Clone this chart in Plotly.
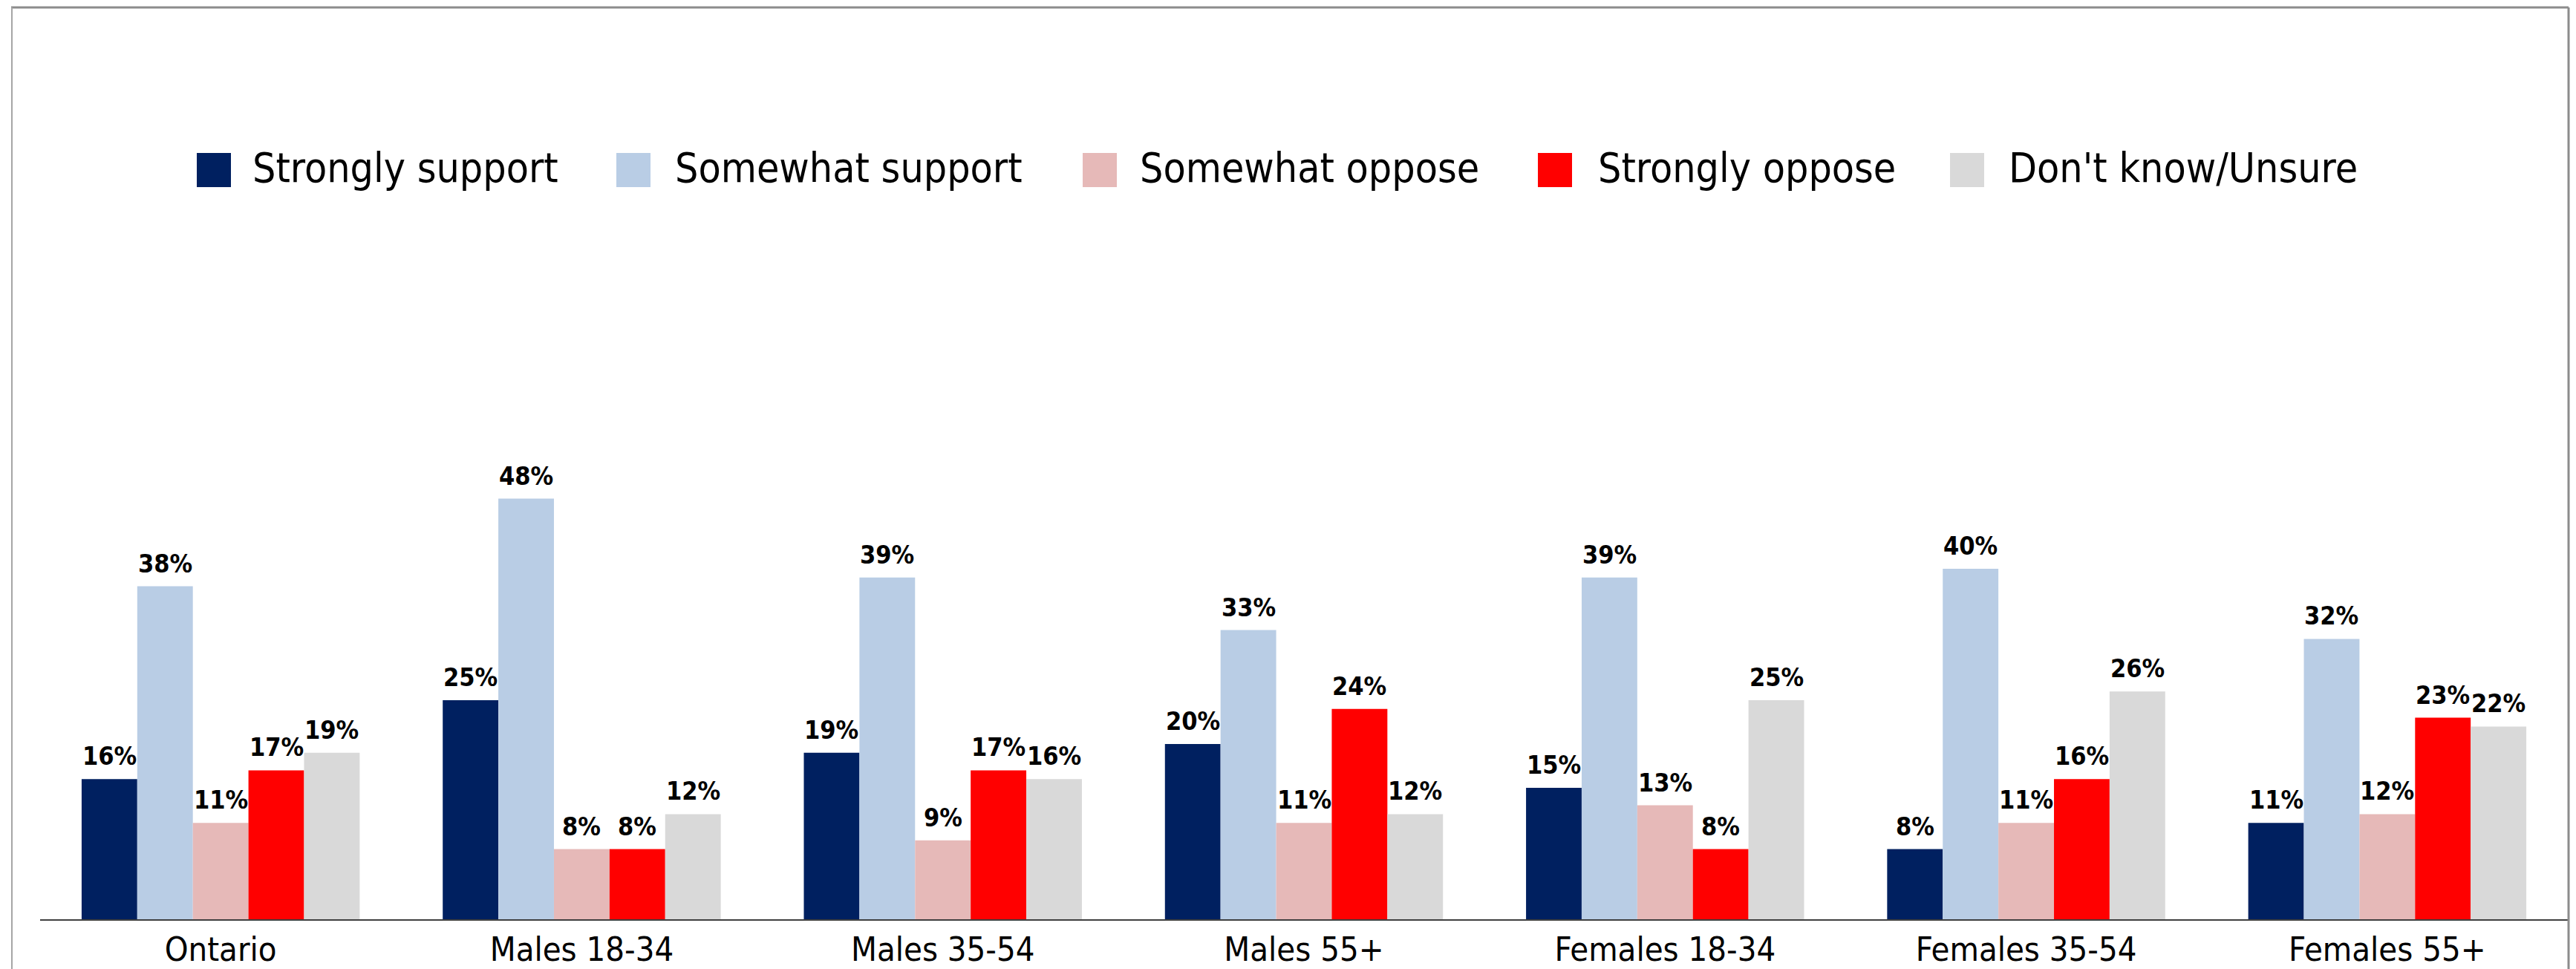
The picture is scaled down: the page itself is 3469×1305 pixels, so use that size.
import plotly.graph_objects as go

categories = ["Ontario", "Males 18-34", "Males 35-54", "Males 55+",
              "Females 18-34", "Females 35-54", "Females 55+"]
series_names = ["Strongly support", "Somewhat support", "Somewhat oppose",
                "Strongly oppose", "Don't know/Unsure"]
strongly_support = [16, 25, 19, 20, 15, 8, 11]
somewhat_support = [38, 48, 39, 33, 39, 40, 32]
somewhat_oppose = [11, 8, 9, 11, 13, 11, 12]
strongly_oppose = [17, 8, 17, 24, 8, 16, 23]
dont_know = [19, 12, 16, 12, 25, 26, 22]
series_values = [strongly_support, somewhat_support, somewhat_oppose,
                 strongly_oppose, dont_know]
colors = ["#002060", "#B9CDE5", "#E6B9B8", "#FF0000", "#D9D9D9"]

FONT = "Liberation Sans Narrow, DejaVu Sans Condensed, Arial Narrow, sans-serif"

W, H = 3469, 1305
L, R_EDGE = 54, 3458
TOP, BASE = 58, 1238
pw, ph = R_EDGE - L, BASE - TOP
BARGAP = 0.23
n_series = len(series_names)
bar_px = pw / len(categories) * (1 - BARGAP) / n_series

def px(x):
    return (x - L) / pw

def py(y):
    return (BASE - y) / ph

fig = go.Figure()
annotations = []
for i, (name, vals, col) in enumerate(zip(series_names, series_values, colors)):
    fig.add_trace(go.Bar(
        x=categories, y=vals, name=name, marker=dict(color=col, line=dict(width=0)),
        showlegend=False,
    ))
    for c, v in zip(categories, vals):
        annotations.append(dict(
            x=c, y=v, xref="x", yref="y", text=f"{v}%", showarrow=False,
            xanchor="center", yanchor="bottom", yshift=9,
            xshift=(i - (n_series - 1) / 2) * bar_px,
            font=dict(family=FONT, size=34, color="black", weight="bold")))

shapes = []
# manual legend
sq_left = [265, 830, 1458, 2071, 2626]
txt_left = [338, 907, 1533, 2150, 2703]
for i, (name, col) in enumerate(zip(series_names, colors)):
    shapes.append(dict(type="rect", xref="paper", yref="paper",
                       x0=px(sq_left[i]), x1=px(sq_left[i] + 46),
                       y0=py(252), y1=py(206), fillcolor=col, line=dict(width=0)))
    annotations.append(dict(xref="paper", yref="paper", x=px(txt_left[i]), y=py(226),
                            xanchor="left", yanchor="middle", showarrow=False,
                            text=name, font=dict(family=FONT, size=55, color="black")))
# frame
shapes.append(dict(type="line", xref="paper", yref="paper", x0=px(15), x1=px(3459),
                   y0=py(10), y1=py(10), line=dict(color="#8c8c8c", width=3)))
shapes.append(dict(type="line", xref="paper", yref="paper", x0=px(16), x1=px(16),
                   y0=py(10), y1=py(1320), line=dict(color="#a6a6a6", width=2)))
shapes.append(dict(type="line", xref="paper", yref="paper", x0=px(3459), x1=px(3459),
                   y0=py(10), y1=py(1320), line=dict(color="#8c8c8c", width=3)))

fig.update_layout(
    width=W, height=H,
    margin=dict(l=L, r=W - R_EDGE, t=TOP, b=H - BASE, autoexpand=False),
    paper_bgcolor="white", plot_bgcolor="white",
    barmode="group", bargap=BARGAP, bargroupgap=0,
    shapes=shapes, annotations=annotations,
    xaxis=dict(showline=True, linecolor="#404040", linewidth=2, ticks="",
               tickfont=dict(family=FONT, size=45, color="black"),
               showgrid=False, zeroline=False, automargin=False),
    yaxis=dict(range=[0, 100], visible=False, showgrid=False, zeroline=False,
               automargin=False),
    showlegend=False,
)
fig.write_html("out.html")
